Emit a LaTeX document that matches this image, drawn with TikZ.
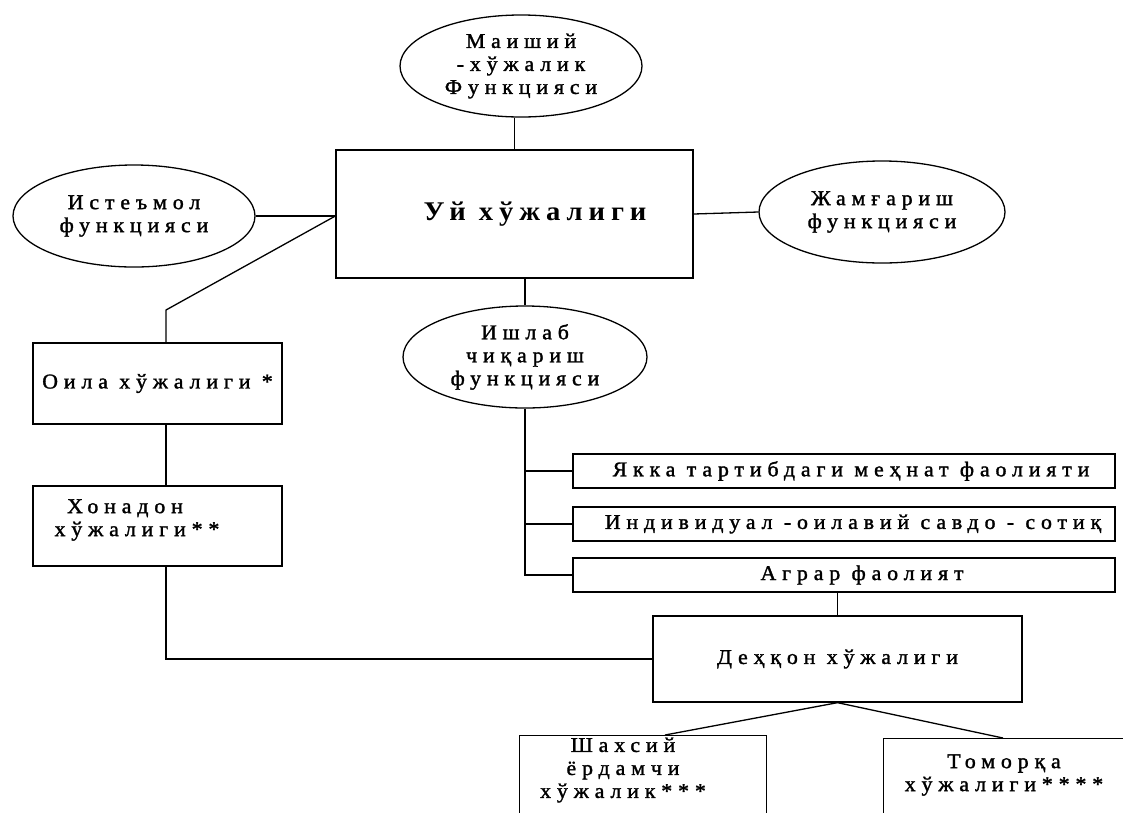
\documentclass[tikz,border=0pt]{standalone}
\usepackage{fontspec}
\setmainfont{Liberation Serif}[LetterSpace=28,FakeStretch=1.04,FakeBold=1.5]
\newfontfamily\titlefont{Liberation Serif Bold}[LetterSpace=22,FakeStretch=1.06]
\usetikzlibrary{shapes.geometric}
\begin{document}
\begin{tikzpicture}[x=1pt,y=-1pt,
  every node/.style={font=\fontsize{21}{23}\selectfont},
  ln/.style={line width=1.3pt},
  oval/.style={draw,line width=1.3pt,ellipse,inner sep=0pt,align=center},
  box/.style={draw,line width=1.3pt,rectangle,inner sep=0pt,align=center},
  txt/.style={inner sep=0pt,align=center}]
\useasboundingbox (0,0) rectangle (1123,812);
\clip (0,0) rectangle (1123,812);
% main box
\node[box,minimum width=357pt,minimum height=128pt,font=\fontsize{27}{30}\titlefont] (main) at (514.5,214) {\hspace*{41pt}Уй хўжалиги};
% ellipses
\node[oval,minimum width=242pt,minimum height=102pt] (mai) at (521,66) {Маиший\\-хўжалик\\Функцияси};
\node[oval,minimum width=242pt,minimum height=102pt] (ist) at (134,216) {Истеъмол\\функцияси};
\node[oval,minimum width=246pt,minimum height=102pt] (jam) at (882,212) {Жамғариш\\функцияси};
\node[oval,minimum width=244pt,minimum height=102pt] (ish) at (525,357) {Ишлаб\\чиқариш\\функцияси};
% left boxes
\node[box,minimum width=249pt,minimum height=81pt] (oila) at (157.5,383.5) {Оила хўжалиги *};
\node[box,minimum width=249pt,minimum height=80pt] (xon) at (157.5,526) {};
\node[txt] (xont) at (137,520) {\hspace*{-24pt}Хонадон\\хўжалиги**};
% right boxes
\node[box,minimum width=542pt,minimum height=34pt] (yak) at (844,471) {\hspace*{14pt}Якка тартибдаги меҳнат фаолияти};
\node[box,minimum width=542pt,minimum height=34pt] (ind) at (844,524) {\hspace*{18pt}Индивидуал -оилавий савдо - сотиқ};
\node[box,minimum width=542pt,minimum height=34pt] (agr) at (844,575) {\hspace*{36pt}Аграр фаолият};
\node[box,minimum width=369pt,minimum height=86pt] (dex) at (837.5,659) {Деҳқон хўжалиги};
% bottom boxes
\node[box,minimum width=247pt,minimum height=110pt,anchor=north west] (sha) at (519,735) {};
\node[txt] (shat) at (623,770) {Шахсий\\ёрдамчи\\хўжалик***};
\node[box,minimum width=300pt,minimum height=110pt,anchor=north west] (tom) at (883,738) {};
\node[txt] (tomt) at (1004,775) {Томорқа\\хўжалиги****};
\coordinate (bend) at (166,310);
\coordinate (low) at (166,659);
% connectors
\draw[ln] (main.north) -- (main.north |- mai.south);
\draw[ln] (ist.east) -- (ist.east -| main.west);
\draw[ln] (ist.east -| main.west) -- (bend) -- (bend |- oila.north);
\draw[ln] (main.east) -- (jam.west);
\draw[ln] (ish.north |- main.south) -- (ish.north);
\draw[ln] (oila.south -| bend) -- (xon.north -| bend);
\draw[ln] (xon.south -| bend) -- (low) -- (dex.west);
\draw[ln] (ish.south) -- (ish.south |- agr.west) -- (agr.west);
\draw[ln] (ish.south |- yak.west) -- (yak.west);
\draw[ln] (ish.south |- ind.west) -- (ind.west);
\draw[ln] (agr.south -| dex.north) -- (dex.north);
\draw[ln] (dex.south) -- ([xshift=146pt]sha.north west);
\draw[ln] (dex.south) -- ([xshift=120pt]tom.north west);
\end{tikzpicture}
\end{document}
